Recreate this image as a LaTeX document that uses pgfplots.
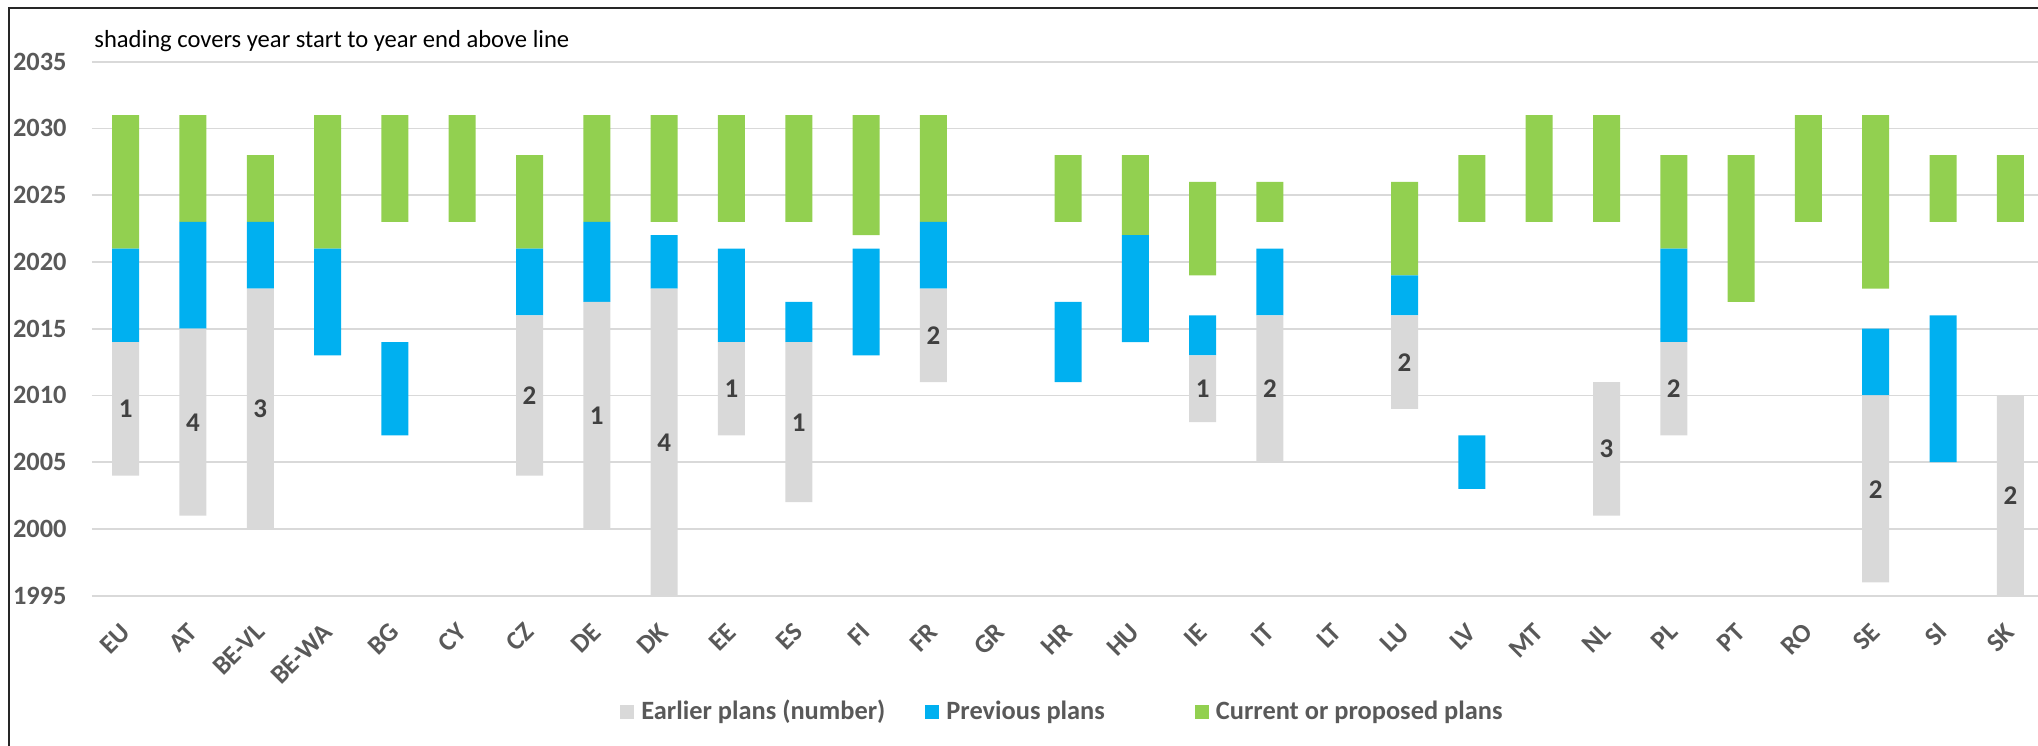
\documentclass[border=0pt]{standalone}
\usepackage{pgfplots}
\pgfplotsset{compat=1.18}
\usepackage{pgfplotstable}
\usepackage{fontspec}
\setmainfont{Carlito}
\definecolor{cgreen}{HTML}{92D050}
\definecolor{cblue}{HTML}{00B0F0}
\definecolor{cgray}{HTML}{D9D9D9}
\definecolor{ctext}{HTML}{595959}
\definecolor{clab}{HTML}{404040}
\definecolor{cgrid}{HTML}{D9D9D9}

% stacked segments: invisible start, earlier plans, gap, previous plans, gap, current plans
\pgfplotstableread{
x base gray gapa blue gapb green
0 2004 10 0 7 0 10
1 2001 14 0 8 0 8
2 2000 18 0 5 0 5
3 2013 0 0 8 0 10
4 2007 0 0 7 9 8
5 2023 0 0 0 0 8
6 2004 12 0 5 0 7
7 2000 17 0 6 0 8
8 1995 23 0 4 1 8
9 2007 7 0 7 2 8
10 2002 12 0 3 6 8
11 2013 0 0 8 1 9
12 2011 7 0 5 0 8
13 0 0 0 0 0 0
14 2011 0 0 6 6 5
15 2014 0 0 8 0 6
16 2008 5 0 3 3 7
17 2005 11 0 5 2 3
18 0 0 0 0 0 0
19 2009 7 0 3 0 7
20 2003 0 0 4 16 5
21 2023 0 0 0 0 8
22 2001 10 0 0 12 8
23 2007 7 0 7 0 7
24 2017 0 0 0 0 11
25 2023 0 0 0 0 8
26 1996 14 0 5 3 13
27 2005 0 0 11 7 5
28 1995 15 0 0 13 5
}\bars

\pgfplotstableread{
x mid lab
0 2009 1
1 2008 4
2 2009 3
6 2010 2
7 2008.5 1
8 2006.5 4
9 2010.5 1
10 2008 1
12 2014.5 2
16 2010.5 1
17 2010.5 2
19 2012.5 2
22 2006 3
23 2010.5 2
26 2003 2
28 2002.5 2
}\labels

\pgfplotsset{sqlegend/.style={legend image code/.code={\fill[##1] (0pt,-3.5pt) rectangle (7pt,3.5pt);}}}

\begin{document}
\begin{tikzpicture}
\useasboundingbox (0,0) rectangle (1019pt,-372.5pt);
\begin{axis}[
  at={(46pt,-298pt)}, anchor=south west,
  scale only axis, width=976pt, height=267pt,
  xmin=-0.5, xmax=28.5, ymin=1995, ymax=2035,
  ybar stacked, bar width=13.5pt,
  xtick={0,...,28},
  xticklabels={EU,AT,BE-VL,BE-WA,BG,CY,CZ,DE,DK,EE,ES,FI,FR,GR,HR,HU,IE,IT,LT,LU,LV,MT,NL,PL,PT,RO,SE,SI,SK},
  ytick={1995,2000,...,2035},
  ymajorgrids, major grid style={draw=cgrid, line width=0.9pt},
  axis line style={draw=none},
  major tick length=0pt,
  /pgf/number format/assume math mode=true,
  /pgf/number format/1000 sep={},
  yticklabel style={font=\fontsize{13.2}{15}\selectfont\bfseries, text=ctext, anchor=east, inner sep=0pt},
  yticklabel shift=12.5pt,
  xticklabel style={font=\fontsize{13.2}{15}\selectfont\bfseries, text=ctext, rotate=45, anchor=east, inner sep=0pt},
  xticklabel shift=16pt,
  legend columns=3,
  legend style={at={(0.2705,-0.2172)}, anchor=west, draw=none, fill=none, inner sep=0pt,
    font=\fontsize{13.2}{15}\selectfont\bfseries, text=ctext,
    nodes={inner sep=0pt},
    /tikz/every odd column/.append style={column sep=3.5pt},
    /tikz/column 2/.append style={column sep=20pt},
    /tikz/column 4/.append style={column sep=45pt}},
]
\addplot[draw=none, fill=none, forget plot] table[x=x,y=base]{\bars};
\addplot[draw=none, fill=cgray, sqlegend] table[x=x,y=gray]{\bars};
\addplot[draw=none, fill=none, forget plot] table[x=x,y=gapa]{\bars};
\addplot[draw=none, fill=cblue, sqlegend] table[x=x,y=blue]{\bars};
\addplot[draw=none, fill=none, forget plot] table[x=x,y=gapb]{\bars};
\addplot[draw=none, fill=cgreen, sqlegend] table[x=x,y=green]{\bars};
\legend{Earlier plans (number), Previous plans, Current or proposed plans}
\end{axis}
\begin{axis}[
  at={(46pt,-298pt)}, anchor=south west,
  scale only axis, width=976pt, height=267pt,
  xmin=-0.5, xmax=28.5, ymin=1995, ymax=2035,
  hide axis, clip=false,
]
\addplot[draw=none, mark=none, nodes near coords, point meta=explicit symbolic,
  every node near coord/.append style={anchor=center, inner sep=0pt, font=\fontsize{13.5}{15}\selectfont\bfseries, text=clab}]
  table[x=x, y=mid, meta=lab]{\labels};
\end{axis}
\node[anchor=base west, inner sep=0pt, font=\fontsize{12.3}{14}\selectfont] at (47pt,-23.5pt) {shading covers year start to year end above line};
\draw[line width=0.9pt, black!85] (4.5pt,-373pt) -- (4.5pt,-4pt) -- (1020pt,-4pt);
\end{tikzpicture}
\end{document}
